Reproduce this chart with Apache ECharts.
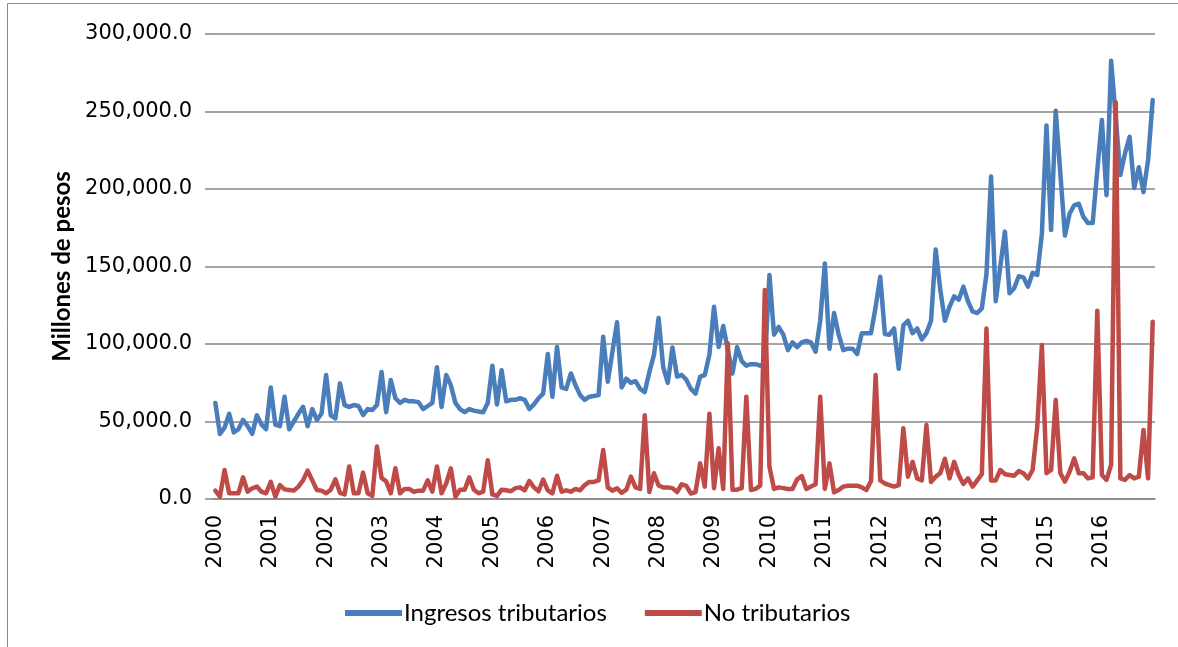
<!DOCTYPE html>
<html>
<head>
<meta charset="utf-8">
<title>Ingresos tributarios y no tributarios</title>
<script src="https://cdn.jsdelivr.net/npm/echarts@6/dist/echarts.min.js"></script>
<style>
  html, body { margin: 0; padding: 0; background: #fff; }
  #chart { width: 1178px; height: 647px; }
</style>
</head>
<body>
<div id="chart"></div>
<script>
// años del eje x (una etiqueta por enero)
const years = ['2000', '2001', '2002', '2003', '2004', '2005', '2006', '2007', '2008',
  '2009', '2010', '2011', '2012', '2013', '2014', '2015', '2016']
const months = ['01', '02', '03', '04', '05', '06', '07', '08', '09', '10', '11', '12']

// millones de pesos, mensual 2000-2016
const tributarios = [
  62000, 42000, 46000, 55000, 43000, 45000, 51000, 47000, 42000, 54000, 48000, 45000,
  72000, 48000, 47000, 66000, 45000, 50000, 55000, 59500, 47000, 58000, 51000, 55000,
  80000, 54000, 52000, 74600, 60600, 59400, 60600, 60000, 54200, 58000, 57400, 60600,
  82000, 56000, 76800, 65000, 62000, 64000, 63000, 63000, 62500, 58000, 60000, 62000,
  85000, 59400, 80000, 73500, 62000, 58000, 56000, 58000, 57000, 56500, 56000, 62000,
  86000, 61000, 83000, 63000, 64000, 64000, 65000, 64000, 58000, 61000, 65000, 68000,
  93500, 66000, 98000, 72000, 71000, 81000, 73500, 67000, 64000, 66000, 66500, 67000,
  104700, 75700, 95000, 114000, 72000, 77600, 75000, 76000, 71000, 69000, 82000, 93000,
  116800, 85000, 75000, 97800, 79000, 80000, 77000, 71000, 68000, 79000, 80000, 93000,
  124000, 98000, 111600, 96000, 81000, 98000, 89000, 86000, 87000, 87000, 86000, 87000,
  144500, 106000, 111000, 106000, 96000, 101000, 98000, 101000, 102000, 101000, 95000, 115000,
  152000, 97000, 120000, 106000, 96000, 97000, 97000, 93500, 107000, 107000, 107000, 124000,
  143400, 106500, 106000, 110000, 84000, 112000, 115000, 107000, 110000, 103000, 107000, 115000,
  161000, 135000, 115000, 124000, 130700, 128600, 137000, 127600, 121000, 120000, 123000, 145000,
  208000, 127600, 150000, 172500, 132700, 136000, 143700, 143000, 137000, 146000, 144500, 171000,
  241000, 173500, 250500, 210000, 170000, 184000, 189500, 190500, 182000, 178000, 178000, 212000,
  244500, 196000, 282800, 246000, 209000, 223000, 233700, 200600, 214000, 198000, 218700, 257400
]
const noTributarios = [
  5400, 1500, 18700, 3700, 3700, 3700, 14000, 4700, 6900, 8000, 4700, 3700,
  11000, 1500, 9000, 6200, 5800, 5400, 8000, 12000, 18300, 12000, 5800, 5400,
  3700, 6000, 12700, 4000, 3000, 21000, 3700, 3700, 17000, 3700, 2000, 33800,
  13600, 11400, 3700, 19800, 3700, 6500, 6500, 4700, 5400, 5400, 12000, 4700,
  21000, 3700, 10000, 19800, 1500, 6000, 6000, 14000, 6000, 3700, 4700, 25000,
  3000, 2000, 6000, 5600, 5000, 7000, 7500, 5600, 11600, 7500, 5000, 12500,
  5600, 3700, 15000, 4700, 5600, 4700, 6500, 5600, 9000, 11000, 11000, 12000,
  31600, 7500, 5400, 6900, 4000, 6000, 14400, 7500, 6500, 54000, 4500, 16600,
  8700, 7500, 7500, 7000, 4500, 9500, 8500, 3500, 4500, 23000, 8000, 55000,
  7000, 32700, 6500, 100400, 6000, 6000, 7000, 66000, 5800, 6500, 8600, 134800,
  20900, 6500, 7500, 7000, 6500, 6500, 12700, 14800, 6500, 8000, 9500, 66000,
  6500, 23000, 4300, 5800, 8000, 8600, 8600, 8600, 7500, 5800, 11600, 80000,
  12000, 10000, 9000, 8000, 9000, 45600, 14400, 24000, 13300, 12000, 47700, 11000,
  14400, 16600, 26000, 13300, 24000, 15500, 9700, 13300, 8000, 12000, 16000, 110000,
  12000, 12000, 18700, 16000, 15500, 15000, 18000, 16600, 13300, 18700, 46700, 99400,
  16600, 18700, 63900, 16600, 11200, 17600, 26200, 16600, 16600, 13300, 14000, 121500,
  15500, 12300, 22000, 256000, 13300, 12300, 15500, 13300, 14400, 44500, 13300, 114400
]

const yMax = 300000
const yStep = 50000

const categories = years.flatMap(y => months.map(m => y + '-' + m))

const chart = echarts.init(document.getElementById('chart'))

chart.setOption({
  animation: false,
  backgroundColor: '#fff',
  graphic: [{
    type: 'rect',
    shape: { x: 7.5, y: 3.5, width: 1200, height: 700 },
    style: { fill: 'none', stroke: '#8a8a8a', lineWidth: 1 },
    silent: true
  }],
  legend: {
    left: 340,
    top: 596,
    icon: 'rect',
    itemWidth: 57,
    itemHeight: 6,
    itemGap: 38,
    textStyle: { fontFamily: 'Lato', fontSize: 24, color: '#000', padding: [0, 0, 0, -3] },
    data: ['Ingresos tributarios', 'No tributarios']
  },
  grid: { left: 213, right: 23, top: 34, bottom: 148 },
  xAxis: {
    type: 'category',
    data: categories,
    boundaryGap: true,
    axisLine: { lineStyle: { color: '#878787', width: 1.5 } },
    axisTick: { show: false },
    axisLabel: {
      interval: 11,
      rotate: 90,
      margin: 16,
      fontFamily: 'DejaVu Sans',
      fontSize: 21,
      color: '#000',
      formatter: v => v.slice(0, 4)
    },
    splitLine: { show: false }
  },
  yAxis: {
    type: 'value',
    min: 0,
    max: yMax,
    interval: yStep,
    name: 'Millones de pesos',
    nameLocation: 'middle',
    nameRotate: 90,
    nameGap: 138,
    nameTextStyle: { fontFamily: 'Lato', fontWeight: 'bold', fontSize: 24, color: '#000' },
    axisLine: { show: false },
    axisTick: { show: true, length: 8, lineStyle: { color: '#878787', width: 1.5 } },
    axisLabel: {
      margin: 21,
      fontFamily: 'DejaVu Sans',
      fontSize: 21,
      color: '#000',
      formatter: v => v.toLocaleString('en-US', { minimumFractionDigits: 1, maximumFractionDigits: 1 })
    },
    splitLine: { lineStyle: { color: '#878787', width: 1.5 } }
  },
  series: [
    {
      name: 'Ingresos tributarios',
      type: 'line',
      data: tributarios,
      symbol: 'none',
      color: '#4A7EBB',
      lineStyle: { width: 4.5, join: 'round', cap: 'round' }
    },
    {
      name: 'No tributarios',
      type: 'line',
      data: noTributarios,
      symbol: 'none',
      color: '#BE4B48',
      lineStyle: { width: 4.5, join: 'round', cap: 'round' }
    }
  ]
})
</script>
</body>
</html>
